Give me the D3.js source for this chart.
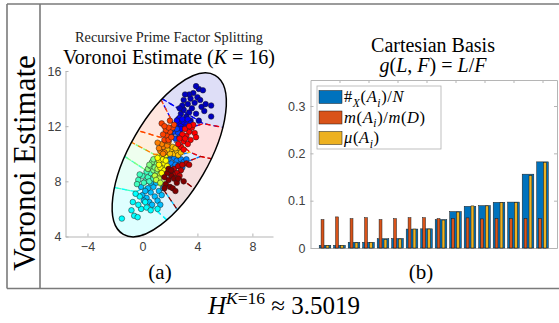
<!DOCTYPE html>
<html>
<head>
<meta charset="utf-8">
<script src="https://cdn.jsdelivr.net/npm/d3@7"></script>
<style>
body { margin: 0; background: #fff; }
svg { display: block; }
</style>
</head>
<body>
<script>
var WIDTH = 559, HEIGHT = 323;
var SERIF = "'Liberation Serif', 'DejaVu Serif', serif";
var SANS = "'Liberation Sans', Arial, sans-serif";

// ---- panel (a): points of the 16 cells ----
var cellPoints = [
  [[2.6,12.5],[2.8,12.9],[3.0,13.2],[3.2,12.7],[3.4,13.0],[3.6,13.3],[3.3,13.6],[3.0,13.9],[3.5,14.0],[3.8,13.7],[4.0,14.1],[3.7,14.4],[4.1,14.7],[3.9,14.9],[4.4,14.6],[4.3,13.4],[4.6,13.6],[5.0,13.5],[5.0,12.7],[3.9,12.9],[4.1,12.4],[2.9,13.5],[3.4,14.3],[4.5,13.1],[3.5,12.4],[3.1,14.3],[4.2,13.9],[2.7,13.3]],
  [[2.4,12.0],[2.6,12.2],[2.8,12.0],[3.0,12.3],[3.2,12.1],[2.7,12.6],[2.9,12.5],[3.3,12.5],[2.5,12.4],[3.1,11.9],[2.8,11.8],[3.5,12.2]],
  [[2.1,11.3],[2.3,11.6],[2.4,11.1],[2.6,11.5],[2.2,11.8],[2.5,11.8],[2.0,11.5],[2.7,11.2]],
  [[1.9,9.6],[2.1,9.3],[2.3,9.7],[2.5,9.5],[2.7,9.2],[2.2,9.0],[2.0,9.9],[2.4,9.2],[2.8,9.6],[2.6,9.9],[3.0,9.4],[3.2,9.6],[2.9,9.0]],
  [[0.0,7.0],[0.3,6.8],[0.6,7.2],[0.9,6.9],[1.2,7.3],[0.4,7.5],[0.8,7.6],[1.1,6.6],[0.2,7.3],[1.4,7.0],[0.5,6.5],[1.0,7.9],[0.7,6.3],[1.5,7.5],[-0.1,7.6],[1.3,6.3],[0.6,7.9],[0.1,6.6]],
  [[-1.5,5.3],[-0.7,6.5],[-0.6,5.5],[-0.35,5.4],[-0.1,6.0],[0.3,6.1],[1.1,6.0],[-0.3,6.3],[0.2,6.5],[-0.8,5.9],[0.6,5.9],[-0.2,6.9],[-0.5,7.1]],
  [[-0.3,8.1],[0.0,8.4],[0.2,8.0],[0.4,8.3],[0.6,8.6],[0.1,7.9],[-0.2,8.5],[0.5,8.0],[0.8,8.2],[0.3,8.7],[-0.4,7.8]],
  [[0.4,8.9],[0.6,9.1],[0.8,8.8],[1.0,9.3],[0.7,9.4],[0.5,9.2],[0.9,9.0],[1.1,8.7],[0.8,9.6]],
  [[0.9,8.4],[1.1,8.9],[1.3,8.5],[1.4,9.1],[1.2,8.2],[1.5,8.7],[1.0,8.1],[1.3,7.9]],
  [[1.2,9.5],[1.4,9.8],[1.6,9.3],[1.3,9.0],[1.5,9.6],[1.7,9.9],[1.1,9.7],[1.6,8.8],[1.4,8.6],[1.2,9.2],[1.7,9.5],[1.5,10.0],[1.8,9.1]],
  [[1.9,10.1],[2.1,10.3],[2.3,10.0],[2.5,10.2],[2.7,10.4],[2.2,10.5],[2.0,10.0],[2.6,9.9],[2.4,10.4],[1.8,10.3],[2.8,10.1]],
  [[1.3,10.2],[1.5,10.5],[1.7,10.8],[1.4,10.7],[1.6,10.1],[1.8,10.6],[1.2,10.4],[1.9,10.9],[1.5,10.0],[1.1,10.8]],
  [[1.6,11.0],[1.8,11.3],[2.0,11.6],[2.2,11.9],[1.7,11.7],[1.9,11.0],[2.1,11.2],[1.5,11.4],[2.3,12.1],[1.4,12.2],[1.9,11.9],[1.6,12.0],[2.0,12.4]],
  [[2.8,10.5],[3.0,10.9],[3.2,11.3],[3.4,11.6],[3.6,11.9],[3.1,11.8],[2.9,11.4],[3.5,11.0],[3.3,10.7],[2.7,11.1],[3.8,11.5],[3.7,12.1],[3.0,10.3],[3.9,11.2],[2.6,10.7],[3.4,12.0],[3.1,11.1]],
  [[2.3,8.9],[2.6,9.1],[2.8,8.8],[2.5,8.6],[3.2,9.3],[2.9,9.2],[2.2,8.5],[3.4,9.2],[2.7,8.4]],
  [[1.7,7.8],[1.9,8.1],[2.1,8.4],[2.0,7.6],[1.8,8.6],[2.3,8.2],[1.6,8.3],[2.5,7.9],[2.2,7.5],[1.9,8.9],[2.6,8.2],[1.6,7.5],[2.4,7.3],[3.0,8.0],[2.1,8.8]]
];
var ellipseCenter = [1.95, 9.92];
var ellipseAxes = [6.68, 2.85];
var ellipseAngle = 60;
var xTicksA = [-4, 0, 4, 8];
var yTicksA = [4, 8, 12, 16];

// ---- panel (b): bar values ----
var barIndex = [1,2,3,4,5,6,7,8,9,10,11,12,13,14,15,16];
var countShare = [0.0056,0.0056,0.012,0.012,0.0196,0.020,0.040,0.0405,0.060,0.077,0.088,0.0895,0.0965,0.097,0.156,0.182];
var measureShare = [0.060,0.0657,0.062,0.064,0.060,0.062,0.064,0.064,0.062,0.062,0.0636,0.0615,0.062,0.062,0.062,0.062];
var muShare = [0.0056,0.0056,0.011,0.012,0.018,0.019,0.040,0.040,0.059,0.076,0.089,0.089,0.096,0.096,0.153,0.181];
var yTicksB = [0, 0.1, 0.2, 0.3];
var xTicksB = [2,4,6,8,10,12,14,16];

var jet = ['#0000bf','#0000ff','#0040ff','#0080ff','#00bfff','#00ffff','#40ffbf','#80ff80',
           '#bfff40','#ffff00','#ffbf00','#ff8000','#ff4000','#ff0000','#bf0000','#800000'];
var barColors = ['#0072bd', '#d95319', '#edb120'];

var svg = d3.select('body').append('svg')
  .attr('width', WIDTH).attr('height', HEIGHT);

// math-ish text: parts = [{t, i, s}] with s = 'sub' | 'sup'
function mathText(sel, x, y, parts, size, anchor) {
  var t = sel.append('text').attr('x', x).attr('y', y)
    .attr('text-anchor', anchor || 'middle')
    .style('font-family', SERIF).style('font-size', size + 'px').attr('fill', '#000');
  var shift = 0;
  parts.forEach(function (p) {
    var target = p.s === 'sub' ? size * 0.28 : p.s === 'sup' ? -size * 0.42 : 0;
    t.append('tspan').attr('dy', target - shift)
      .style('font-style', p.i ? 'italic' : 'normal')
      .style('font-size', p.s ? (size * 0.7) + 'px' : null)
      .text(p.t);
    shift = target;
  });
  return t;
}

// ---- outer frame ----
var frame = svg.append('g').attr('stroke', '#7a7a7a').attr('stroke-width', 1.6);
frame.append('line').attr('x1', 7).attr('x2', 580).attr('y1', 4).attr('y2', 4);
frame.append('line').attr('x1', 7).attr('x2', 580).attr('y1', 288.5).attr('y2', 288.5);
frame.append('line').attr('x1', 7).attr('x2', 7).attr('y1', 4).attr('y2', 288.5);
frame.append('line').attr('x1', 40).attr('x2', 40).attr('y1', 4).attr('y2', 288.5);

svg.append('text').attr('transform', 'translate(35,163) rotate(-90)')
  .attr('text-anchor', 'middle').style('font-family', SERIF).style('font-size', '31px')
  .text('Voronoi Estimate');

// ---- panel (a) ----
var xA = d3.scaleLinear().domain([-5.6, 9.5]).range([65.5, 273]);
var yA = d3.scaleLinear().domain([4, 16]).range([236.5, 71]);
var k = xA(1) - xA(0);

svg.append('text').attr('x', 169).attr('y', 41.5).attr('text-anchor', 'middle')
  .style('font-family', SERIF).style('font-size', '14.3px').attr('fill', '#222')
  .text('Recursive Prime Factor Splitting');
mathText(svg, 169, 64, [{t: 'Voronoi Estimate ('}, {t: 'K', i: 1}, {t: ' = 16)'}], 20);

var gA = svg.append('g');
gA.append('g').attr('transform', 'translate(0,' + yA(4) + ')')
  .call(d3.axisBottom(xA).tickValues(xTicksA).tickSizeInner(-3).tickSizeOuter(0).tickPadding(6))
  .call(function (g) {
    g.select('.domain').attr('stroke', '#b5b5b5');
    g.selectAll('.tick line').attr('stroke', '#b5b5b5');
    g.selectAll('text').style('font-family', SANS).style('font-size', '12.5px').attr('fill', '#404040');
  });
gA.append('g').attr('transform', 'translate(' + xA(-5.6) + ',0)')
  .call(d3.axisLeft(yA).tickValues(yTicksA).tickSizeInner(-3).tickSizeOuter(0).tickPadding(4))
  .call(function (g) {
    g.select('.domain').attr('stroke', '#b5b5b5');
    g.selectAll('.tick line').attr('stroke', '#b5b5b5');
    g.selectAll('text').style('font-family', SANS).style('font-size', '12.5px').attr('fill', '#404040');
  });

var ecx = xA(ellipseCenter[0]), ecy = yA(ellipseCenter[1]);
var eTransform = 'translate(' + ecx + ',' + ecy + ') rotate(' + (-ellipseAngle) + ')';
svg.append('clipPath').attr('id', 'ell').append('ellipse')
  .attr('transform', eTransform)
  .attr('rx', ellipseAxes[0] * k).attr('ry', ellipseAxes[1] * k);

var seeds = cellPoints.map(function (c) {
  return [d3.mean(c, function (d) { return d[0]; }), d3.mean(c, function (d) { return d[1]; })];
});
var delaunay = d3.Delaunay.from(seeds, function (d) { return xA(d[0]); }, function (d) { return yA(d[1]); });
var vor = delaunay.voronoi([xA(-6), yA(17), xA(10), yA(3)]);

var cells = gA.append('g').attr('clip-path', 'url(#ell)');
seeds.forEach(function (s, i) {
  cells.append('path').attr('d', vor.renderCell(i))
    .attr('fill', jet[i]).attr('fill-opacity', 0.13).attr('stroke', 'none');
});
seeds.forEach(function (s, i) {
  cells.append('path').attr('d', vor.renderCell(i))
    .attr('fill', 'none').attr('stroke', jet[i]).attr('stroke-width', 1.3)
    .attr('stroke-dasharray', '5,3.5');
});

var pts = gA.append('g');
cellPoints.forEach(function (c, i) {
  pts.selectAll(null).data(c).enter().append('circle')
    .attr('cx', function (d) { return xA(d[0]); })
    .attr('cy', function (d) { return yA(d[1]); })
    .attr('r', 2.8)
    .attr('fill', jet[i]).attr('stroke', '#1a1a1a').attr('stroke-width', 0.5);
});

gA.append('ellipse').attr('transform', eTransform)
  .attr('rx', ellipseAxes[0] * k).attr('ry', ellipseAxes[1] * k)
  .attr('fill', 'none').attr('stroke', '#000').attr('stroke-width', 1.5);

svg.append('text').attr('x', 160).attr('y', 279).attr('text-anchor', 'middle')
  .style('font-family', SERIF).style('font-size', '21px').text('(a)');

// ---- panel (b) ----
var xB = d3.scaleLinear().domain([0, 17]).range([310.5, 557]);
var yB = d3.scaleLinear().domain([0, 0.355]).range([248, 80]);

mathText(svg, 433, 52, [{t: 'Cartesian Basis'}], 20);
mathText(svg, 433, 72, [{t: 'g', i: 1}, {t: '('}, {t: 'L', i: 1}, {t: ', '}, {t: 'F', i: 1},
  {t: ') = '}, {t: 'L', i: 1}, {t: '/'}, {t: 'F', i: 1}], 20);

var gB = svg.append('g');
function styleAxis(g) {
  g.select('.domain').attr('stroke', '#b5b5b5');
  g.selectAll('.tick line').attr('stroke', '#b5b5b5');
  g.selectAll('text').style('font-family', SANS).style('font-size', '12.5px').attr('fill', '#404040');
}
gB.append('g').attr('transform', 'translate(0,' + yB(0) + ')')
  .call(d3.axisBottom(xB).tickValues(xTicksB).tickFormat('').tickSizeInner(-3).tickSizeOuter(0))
  .call(styleAxis);
gB.append('g').attr('transform', 'translate(0,' + yB(0.355) + ')')
  .call(d3.axisTop(xB).tickValues(xTicksB).tickFormat('').tickSizeInner(-3).tickSizeOuter(0))
  .call(styleAxis);
gB.append('g').attr('transform', 'translate(' + xB(0) + ',0)')
  .call(d3.axisLeft(yB).tickValues(yTicksB)
    .tickFormat(function (d) { return d === 0 ? '0' : d3.format('.1f')(d); })
    .tickSizeInner(-3).tickSizeOuter(0).tickPadding(5))
  .call(styleAxis);
gB.append('g').attr('transform', 'translate(' + xB(17) + ',0)')
  .call(d3.axisRight(yB).tickValues(yTicksB).tickFormat('').tickSizeInner(-3).tickSizeOuter(0))
  .call(styleAxis);

var bars = gB.append('g').attr('stroke', '#1a1a1a').attr('stroke-width', 0.5);
bars.selectAll('rect.cnt').data(barIndex).enter().append('rect')
  .attr('x', function (d) { return xB(d - 0.4); })
  .attr('width', xB(0.8) - xB(0))
  .attr('y', function (d, i) { return yB(countShare[i]); })
  .attr('height', function (d, i) { return yB(0) - yB(countShare[i]); })
  .attr('fill', barColors[0]);
bars.selectAll('rect.mea').data(barIndex).enter().append('rect')
  .attr('x', function (d) { return xB(d - 0.27); })
  .attr('width', xB(0.2) - xB(0))
  .attr('y', function (d, i) { return yB(measureShare[i]); })
  .attr('height', function (d, i) { return yB(0) - yB(measureShare[i]); })
  .attr('fill', barColors[1]);
bars.selectAll('rect.mu').data(barIndex).enter().append('rect')
  .attr('x', function (d) { return xB(d + 0.07); })
  .attr('width', xB(0.2) - xB(0))
  .attr('y', function (d, i) { return yB(muShare[i]); })
  .attr('height', function (d, i) { return yB(0) - yB(muShare[i]); })
  .attr('fill', barColors[2]);

// legend
var lg = gB.append('g');
lg.append('rect').attr('x', 317).attr('y', 86).attr('width', 124).attr('height', 63)
  .attr('fill', '#fff').attr('stroke', '#b0b0b0').attr('stroke-width', 0.8);
var legendLabels = [
  [{t: '#'}, {t: 'X', i: 1, s: 'sub'}, {t: '('}, {t: 'A', i: 1}, {t: 'i', i: 1, s: 'sub'}, {t: ')/'}, {t: 'N', i: 1}],
  [{t: 'm', i: 1}, {t: '('}, {t: 'A', i: 1}, {t: 'i', i: 1, s: 'sub'}, {t: ')/'}, {t: 'm', i: 1}, {t: '('}, {t: 'D', i: 1}, {t: ')'}],
  [{t: 'μ', i: 1}, {t: '('}, {t: 'A', i: 1}, {t: 'i', i: 1, s: 'sub'}, {t: ')'}]
];
legendLabels.forEach(function (parts, i) {
  var cy = 97 + i * 20.5;
  lg.append('rect').attr('x', 319).attr('y', cy - 6.5).attr('width', 23).attr('height', 13)
    .attr('fill', barColors[i]).attr('stroke', '#1a1a1a').attr('stroke-width', 0.5);
  mathText(lg, 344, cy + 5, parts, 16.5, 'start').style('letter-spacing', '0.6px');
});

svg.append('text').attr('x', 421).attr('y', 279).attr('text-anchor', 'middle')
  .style('font-family', SERIF).style('font-size', '21px').text('(b)');

// ---- bottom value ----
mathText(svg, 284, 314, [{t: 'H', i: 1}, {t: 'K', i: 1, s: 'sup'}, {t: '=16', s: 'sup'},
  {t: ' ≈ 3.5019'}], 25);
</script>
</body>
</html>
